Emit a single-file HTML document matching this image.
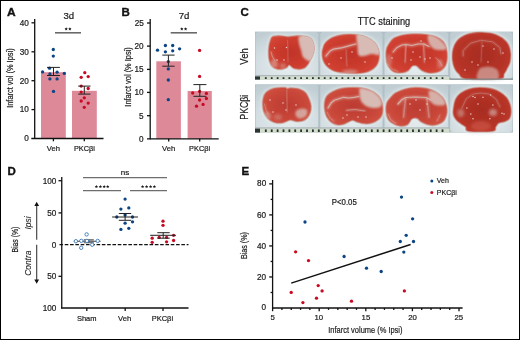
<!DOCTYPE html>
<html><head><meta charset="utf-8">
<style>
html,body{margin:0;padding:0;background:#fff;}
body{width:520px;height:340px;overflow:hidden;}
svg{display:block;font-family:"Liberation Sans",sans-serif;will-change:transform;}
svg text{stroke:#1a1a1a;stroke-width:0.2px;}
svg text.b{stroke:#111;stroke-width:0.35px;}
</style></head>
<body>
<svg width="520" height="340" viewBox="0 0 520 340">
<rect x="0" y="0" width="520" height="340" fill="#fff"/>
<rect x="0.5" y="0.5" width="519" height="339" fill="none" stroke="#000" stroke-width="1"/>

<!-- ============ PANEL A ============ -->
<g id="A">
<text transform="translate(7,15.8) scale(1.06,1)" class="b" font-size="11.3" font-weight="bold" fill="#111">A</text>
<text x="68.8" y="18.9" font-size="9.6" text-anchor="middle" fill="#1a1a1a">3d</text>
<line x1="55" y1="32.8" x2="81" y2="32.8" stroke="#6a6a6a" stroke-width="1.6"/>
<path fill="#1a1a1a" d="M66.20,27.25 L66.70,28.31 L67.86,28.46 L67.01,29.26 L67.23,30.42 L66.20,29.85 L65.17,30.42 L65.39,29.26 L64.54,28.46 L65.70,28.31ZM69.90,27.25 L70.40,28.31 L71.56,28.46 L70.71,29.26 L70.93,30.42 L69.90,29.85 L68.87,30.42 L69.09,29.26 L68.24,28.46 L69.40,28.31Z"/>
<!-- bars -->
<rect x="41" y="72.2" width="24.8" height="66.5" fill="#de8998"/>
<rect x="72" y="90.8" width="24.8" height="47.9" fill="#de8998"/>
<!-- axes -->
<g stroke="#111" stroke-width="1.3" fill="none">
<line x1="34.7" y1="19" x2="34.7" y2="139"/>
<line x1="31.3" y1="138.5" x2="103.5" y2="138.5"/>
<line x1="31.5" y1="22.8" x2="34.7" y2="22.8"/>
<line x1="31.5" y1="51.8" x2="34.7" y2="51.8"/>
<line x1="31.5" y1="80.7" x2="34.7" y2="80.7"/>
<line x1="31.5" y1="109.6" x2="34.7" y2="109.6"/>
<line x1="53.4" y1="138.5" x2="53.4" y2="141.3"/>
<line x1="84.3" y1="138.5" x2="84.3" y2="141.3"/>
</g>
<g font-size="8.2" text-anchor="end" fill="#1a1a1a">
<text x="28.8" y="25.6">40</text>
<text x="28.8" y="54.6">30</text>
<text x="28.8" y="83.5">20</text>
<text x="28.8" y="112.4">10</text>
<text x="28.8" y="141.4">0</text>
</g>
<g font-size="7.9" text-anchor="middle" fill="#1a1a1a" lengthAdjust="spacingAndGlyphs">
<text x="53.4" y="151.3" textLength="13.2" lengthAdjust="spacingAndGlyphs">Veh</text>
<text x="84.4" y="151.3" textLength="21" lengthAdjust="spacingAndGlyphs">PKCβi</text>
</g>
<text transform="translate(13.3,78.1) rotate(-90)" font-size="9" text-anchor="middle" fill="#1a1a1a" textLength="59.5" lengthAdjust="spacingAndGlyphs">Infarct vol (% Ipsi)</text>
<!-- dots -->
<g fill="#0c4585">
<circle cx="53.3" cy="49.5" r="1.65"/><circle cx="53.3" cy="56.1" r="1.65"/>
<circle cx="49.5" cy="68.2" r="1.65"/><circle cx="42.6" cy="71.9" r="1.65"/>
<circle cx="49.9" cy="73.9" r="1.65"/><circle cx="57.1" cy="72.2" r="1.65"/>
<circle cx="64.3" cy="73.4" r="1.65"/><circle cx="49.9" cy="78.9" r="1.65"/>
<circle cx="57.1" cy="78.9" r="1.65"/><circle cx="53.5" cy="91.4" r="1.65"/>
</g>
<g fill="#c80a24">
<circle cx="84.8" cy="72.7" r="1.65"/><circle cx="81.2" cy="77.3" r="1.65"/>
<circle cx="88.2" cy="76.6" r="1.65"/><circle cx="81.2" cy="86.1" r="1.65"/>
<circle cx="88.2" cy="88.5" r="1.65"/><circle cx="81.2" cy="92.1" r="1.65"/>
<circle cx="84.3" cy="97.8" r="1.65"/><circle cx="81.2" cy="101" r="1.65"/>
<circle cx="88.2" cy="103.1" r="1.65"/><circle cx="84.3" cy="107.3" r="1.65"/>
</g>
<g stroke="#222" stroke-width="1" fill="none">
<path d="M47 67.4H59.9M53.5 67.4V75.5M47 75.5H59.9"/>
<path d="M78.2 86.1H90.5M84.3 86.1V94.1M78.2 94.1H90.5"/>
</g>
</g>

<!-- ============ PANEL B ============ -->
<g id="B">
<text x="121.5" y="16" class="b" font-size="11.5" font-weight="bold" fill="#111">B</text>
<text x="184.1" y="18.9" font-size="9.6" text-anchor="middle" fill="#1a1a1a">7d</text>
<line x1="170.7" y1="32.8" x2="197" y2="32.8" stroke="#6a6a6a" stroke-width="1.6"/>
<path fill="#1a1a1a" d="M181.80,27.25 L182.30,28.31 L183.46,28.46 L182.61,29.26 L182.83,30.42 L181.80,29.85 L180.77,30.42 L180.99,29.26 L180.14,28.46 L181.30,28.31ZM185.60,27.25 L186.10,28.31 L187.26,28.46 L186.41,29.26 L186.63,30.42 L185.60,29.85 L184.57,30.42 L184.79,29.26 L183.94,28.46 L185.10,28.31Z"/>
<rect x="156.3" y="61.3" width="24.6" height="77.5" fill="#de8998"/>
<rect x="187.6" y="91" width="24.2" height="47.7" fill="#de8998"/>
<g stroke="#111" stroke-width="1.3" fill="none">
<line x1="150.2" y1="19" x2="150.2" y2="139.2"/>
<line x1="147" y1="138.8" x2="218.7" y2="138.8"/>
<line x1="147" y1="23" x2="150.2" y2="23"/>
<line x1="147" y1="46.1" x2="150.2" y2="46.1"/>
<line x1="147" y1="69.4" x2="150.2" y2="69.4"/>
<line x1="147" y1="92.4" x2="150.2" y2="92.4"/>
<line x1="147" y1="115.7" x2="150.2" y2="115.7"/>
<line x1="168.7" y1="138.8" x2="168.7" y2="141.4"/>
<line x1="199.7" y1="138.8" x2="199.7" y2="141.4"/>
</g>
<g font-size="8.2" text-anchor="end" fill="#1a1a1a">
<text x="143.8" y="25.8">25</text>
<text x="143.5" y="48.9">20</text>
<text x="143.5" y="72.2">15</text>
<text x="143.5" y="95">10</text>
<text x="143.5" y="118.6">5</text>
<text x="143.5" y="141.6">0</text>
</g>
<g font-size="7.9" text-anchor="middle" fill="#1a1a1a">
<text x="168.7" y="151.3" textLength="13.2" lengthAdjust="spacingAndGlyphs">Veh</text>
<text x="199.6" y="151.3" textLength="21" lengthAdjust="spacingAndGlyphs">PKCβi</text>
</g>
<text transform="translate(130.8,76.9) rotate(-90)" font-size="9" text-anchor="middle" fill="#1a1a1a" textLength="59.5" lengthAdjust="spacingAndGlyphs">Infarct vol (% Ipsi)</text>
<g fill="#0c4585">
<circle cx="157.5" cy="50.2" r="1.65"/><circle cx="165.4" cy="45.5" r="1.65"/>
<circle cx="172.7" cy="45.5" r="1.65"/><circle cx="179.6" cy="48.8" r="1.65"/>
<circle cx="165.4" cy="51.8" r="1.65"/><circle cx="172.7" cy="50.8" r="1.65"/>
<circle cx="168.3" cy="61.6" r="1.65"/><circle cx="168.3" cy="68.9" r="1.65"/>
<circle cx="168.3" cy="80" r="1.65"/><circle cx="168.3" cy="99.7" r="1.65"/>
</g>
<g fill="#c80a24">
<circle cx="199.6" cy="50.4" r="1.65"/><circle cx="199.6" cy="76.4" r="1.65"/>
<circle cx="192.7" cy="93" r="1.65"/><circle cx="199.6" cy="91.4" r="1.65"/>
<circle cx="206.4" cy="93.4" r="1.65"/><circle cx="199.6" cy="100" r="1.65"/>
<circle cx="206.4" cy="98.5" r="1.65"/><circle cx="196.5" cy="106.2" r="1.65"/>
<circle cx="203.1" cy="104.4" r="1.65"/>
</g>
<g stroke="#222" stroke-width="1" fill="none">
<path d="M162.3 55.1H174.6M168.4 55.1V66.2M162.3 66.2H174.6"/>
<path d="M193.4 84.6H206.4M199.8 84.6V96.3M193.4 96.3H206.4"/>
</g>
</g>

<!-- ============ PANEL C ============ -->
<g id="C">
<text x="240.5" y="16" class="b" font-size="11.5" font-weight="bold" fill="#111">C</text>
<text x="357.7" y="25.4" font-size="10" fill="#1a1a1a" textLength="52.5" lengthAdjust="spacingAndGlyphs">TTC staining</text>
<text transform="translate(248.4,56.5) rotate(-90)" font-size="10" text-anchor="middle" fill="#1a1a1a" textLength="16.3" lengthAdjust="spacingAndGlyphs">Veh</text>
<text transform="translate(248.4,107.2) rotate(-90)" font-size="10" text-anchor="middle" fill="#1a1a1a" textLength="25" lengthAdjust="spacingAndGlyphs">PKCβi</text>
<!--PHOTOS-->
<defs><filter id="bl" x="-2%" y="-5%" width="104%" height="110%"><feGaussianBlur stdDeviation="0.65"/></filter><filter id="bl2" x="-60%" y="-60%" width="220%" height="220%"><feGaussianBlur stdDeviation="1.6"/></filter><filter id="bl3" x="-60%" y="-60%" width="220%" height="220%"><feGaussianBlur stdDeviation="0.45"/></filter><filter id="bl4" x="-60%" y="-60%" width="220%" height="220%"><feGaussianBlur stdDeviation="1.3"/></filter><radialGradient id="rg1" cx="50%" cy="50%" r="62%"><stop offset="0" stop-color="#c03428"/><stop offset="0.6" stop-color="#cc3c2e"/><stop offset="1" stop-color="#d84836"/></radialGradient><radialGradient id="rg1d" cx="50%" cy="50%" r="62%"><stop offset="0" stop-color="#a82c22"/><stop offset="0.6" stop-color="#b43226"/><stop offset="1" stop-color="#c43c2e"/></radialGradient><radialGradient id="rg2" cx="50%" cy="50%" r="62%"><stop offset="0" stop-color="#bc3c32"/><stop offset="0.6" stop-color="#c84638"/><stop offset="1" stop-color="#d45444"/></radialGradient><radialGradient id="wg" cx="50%" cy="75%" r="80%"><stop offset="0" stop-color="#e4ecee"/><stop offset="0.55" stop-color="#d6e0e4"/><stop offset="1" stop-color="#c0ced3"/></radialGradient></defs>
<g filter="url(#bl)"><rect x="255" y="31.6" width="258" height="48.0" fill="#b0c0c6"/><rect x="255.6" y="32.1" width="62.7" height="47.0" rx="3" fill="url(#wg)"/><rect x="320.3" y="32.1" width="62.2" height="47.0" rx="3" fill="url(#wg)"/><rect x="384.5" y="32.1" width="63.7" height="47.0" rx="3" fill="url(#wg)"/><rect x="450.2" y="32.1" width="62.2" height="47.0" rx="3" fill="url(#wg)"/><path d="M272.4,36.6 C274.0,35.8 277.2,35.6 279.8,35.6 C282.4,35.6 285.3,36.6 288.1,36.6 C290.9,36.6 293.6,35.6 296.7,35.6 C299.8,35.6 304.6,36.1 307.0,36.6 C309.4,37.1 310.3,37.7 311.4,38.8 C312.5,39.9 313.1,41.5 313.6,43.2 C314.1,44.9 314.4,47.1 314.3,49.1 C314.2,51.1 313.5,53.3 312.9,55.0 C312.3,56.7 311.4,57.9 310.7,59.4 C310.0,60.9 309.5,62.5 308.5,63.9 C307.5,65.3 306.3,67.1 304.8,68.0 C303.3,68.9 301.5,69.3 299.6,69.4 C297.8,69.5 295.4,69.3 293.7,68.6 C292.0,67.9 290.4,65.5 289.3,65.3 C288.2,65.1 288.3,66.8 287.1,67.5 C285.9,68.2 283.8,69.2 282.0,69.4 C280.2,69.7 277.8,69.5 276.1,69.0 C274.4,68.5 272.9,67.4 271.7,66.1 C270.5,64.8 269.8,63.0 269.2,60.9 C268.6,58.8 268.4,56.0 268.3,53.5 C268.2,51.0 268.4,48.4 268.7,46.2 C269.0,44.0 269.6,41.9 270.2,40.3 C270.8,38.7 270.8,37.4 272.4,36.6Z" fill="#e2eaec" stroke="#e2eaec" stroke-width="2.5" filter="url(#bl2)"/><path d="M272.4,36.6 C274.0,35.8 277.2,35.6 279.8,35.6 C282.4,35.6 285.3,36.6 288.1,36.6 C290.9,36.6 293.6,35.6 296.7,35.6 C299.8,35.6 304.6,36.1 307.0,36.6 C309.4,37.1 310.3,37.7 311.4,38.8 C312.5,39.9 313.1,41.5 313.6,43.2 C314.1,44.9 314.4,47.1 314.3,49.1 C314.2,51.1 313.5,53.3 312.9,55.0 C312.3,56.7 311.4,57.9 310.7,59.4 C310.0,60.9 309.5,62.5 308.5,63.9 C307.5,65.3 306.3,67.1 304.8,68.0 C303.3,68.9 301.5,69.3 299.6,69.4 C297.8,69.5 295.4,69.3 293.7,68.6 C292.0,67.9 290.4,65.5 289.3,65.3 C288.2,65.1 288.3,66.8 287.1,67.5 C285.9,68.2 283.8,69.2 282.0,69.4 C280.2,69.7 277.8,69.5 276.1,69.0 C274.4,68.5 272.9,67.4 271.7,66.1 C270.5,64.8 269.8,63.0 269.2,60.9 C268.6,58.8 268.4,56.0 268.3,53.5 C268.2,51.0 268.4,48.4 268.7,46.2 C269.0,44.0 269.6,41.9 270.2,40.3 C270.8,38.7 270.8,37.4 272.4,36.6Z" fill="url(#rg1)"/><path d="M272.4,36.6 C274.0,35.8 277.2,35.6 279.8,35.6 C282.4,35.6 285.3,36.6 288.1,36.6 C290.9,36.6 293.6,35.6 296.7,35.6 C299.8,35.6 304.6,36.1 307.0,36.6 C309.4,37.1 310.3,37.7 311.4,38.8 C312.5,39.9 313.1,41.5 313.6,43.2 C314.1,44.9 314.4,47.1 314.3,49.1 C314.2,51.1 313.5,53.3 312.9,55.0 C312.3,56.7 311.4,57.9 310.7,59.4 C310.0,60.9 309.5,62.5 308.5,63.9 C307.5,65.3 306.3,67.1 304.8,68.0 C303.3,68.9 301.5,69.3 299.6,69.4 C297.8,69.5 295.4,69.3 293.7,68.6 C292.0,67.9 290.4,65.5 289.3,65.3 C288.2,65.1 288.3,66.8 287.1,67.5 C285.9,68.2 283.8,69.2 282.0,69.4 C280.2,69.7 277.8,69.5 276.1,69.0 C274.4,68.5 272.9,67.4 271.7,66.1 C270.5,64.8 269.8,63.0 269.2,60.9 C268.6,58.8 268.4,56.0 268.3,53.5 C268.2,51.0 268.4,48.4 268.7,46.2 C269.0,44.0 269.6,41.9 270.2,40.3 C270.8,38.7 270.8,37.4 272.4,36.6Z" fill="none" stroke="#c49a92" stroke-width="1.6" opacity="0.55"/><clipPath id="cp31_0"><path d="M272.4,36.6 C274.0,35.8 277.2,35.6 279.8,35.6 C282.4,35.6 285.3,36.6 288.1,36.6 C290.9,36.6 293.6,35.6 296.7,35.6 C299.8,35.6 304.6,36.1 307.0,36.6 C309.4,37.1 310.3,37.7 311.4,38.8 C312.5,39.9 313.1,41.5 313.6,43.2 C314.1,44.9 314.4,47.1 314.3,49.1 C314.2,51.1 313.5,53.3 312.9,55.0 C312.3,56.7 311.4,57.9 310.7,59.4 C310.0,60.9 309.5,62.5 308.5,63.9 C307.5,65.3 306.3,67.1 304.8,68.0 C303.3,68.9 301.5,69.3 299.6,69.4 C297.8,69.5 295.4,69.3 293.7,68.6 C292.0,67.9 290.4,65.5 289.3,65.3 C288.2,65.1 288.3,66.8 287.1,67.5 C285.9,68.2 283.8,69.2 282.0,69.4 C280.2,69.7 277.8,69.5 276.1,69.0 C274.4,68.5 272.9,67.4 271.7,66.1 C270.5,64.8 269.8,63.0 269.2,60.9 C268.6,58.8 268.4,56.0 268.3,53.5 C268.2,51.0 268.4,48.4 268.7,46.2 C269.0,44.0 269.6,41.9 270.2,40.3 C270.8,38.7 270.8,37.4 272.4,36.6Z"/></clipPath><g clip-path="url(#cp31_0)"><ellipse cx="274" cy="64" rx="4" ry="4" fill="#d8c2bc" opacity="0.5" filter="url(#bl2)"/><ellipse cx="283" cy="66" rx="3" ry="3" fill="#d8c2bc" opacity="0.4" filter="url(#bl2)"/><path d="M300.0,36.0 C302.7,34.8 312.5,32.3 315.0,36.0 C317.5,39.7 316.0,53.8 315.0,58.0 C314.0,62.2 311.0,61.2 309.0,61.0 C307.0,60.8 304.3,58.8 303.0,57.0 C301.7,55.2 301.7,52.3 301.0,50.0 C300.3,47.7 299.2,45.3 299.0,43.0 C298.8,40.7 297.3,37.2 300.0,36.0Z" fill="#d8c2bc" opacity="0.95" filter="url(#bl4)"/><path d="M271.0,52.0 L272.5,57.0 L275.0,61.0" fill="none" stroke="#e8ccc6" stroke-width="2.6" stroke-linejoin="round" stroke-linecap="round" opacity="0.23" filter="url(#bl4)"/><path d="M271.0,52.0 L272.5,57.0 L275.0,61.0" fill="none" stroke="#d4bcb6" stroke-width="1.0" stroke-linejoin="round" stroke-linecap="round" opacity="0.5" filter="url(#bl3)"/><path d="M287.5,40.0 L287.8,50.0 L288.0,62.0" fill="none" stroke="#e8ccc6" stroke-width="2.1" stroke-linejoin="round" stroke-linecap="round" opacity="0.11" filter="url(#bl4)"/><path d="M287.5,40.0 L287.8,50.0 L288.0,62.0" fill="none" stroke="#d4bcb6" stroke-width="0.8" stroke-linejoin="round" stroke-linecap="round" opacity="0.25" filter="url(#bl3)"/><circle cx="274.5" cy="48" r="0.75" fill="#f0e6e4" opacity="0.85"/><circle cx="286.5" cy="47.5" r="0.75" fill="#f0e6e4" opacity="0.85"/><circle cx="277" cy="60" r="0.75" fill="#f0e6e4" opacity="0.85"/><circle cx="284" cy="60" r="0.75" fill="#f0e6e4" opacity="0.85"/></g><path d="M324.8,43.2 C326.1,41.7 328.2,39.5 330.7,38.1 C333.1,36.8 336.3,35.8 339.5,35.1 C342.7,34.4 346.6,34.2 349.8,34.1 C353.0,34.0 355.7,34.2 358.6,34.7 C361.6,35.2 364.8,36.1 367.5,37.4 C370.2,38.7 373.0,40.5 374.8,42.5 C376.6,44.5 377.7,46.8 378.5,49.1 C379.3,51.4 379.6,54.0 379.5,56.5 C379.4,59.0 378.8,61.7 377.8,63.8 C376.8,65.9 375.4,67.5 373.4,69.0 C371.4,70.5 368.7,71.8 366.0,72.6 C363.3,73.4 360.1,73.7 357.2,73.8 C354.3,73.9 351.3,73.6 348.4,73.4 C345.4,73.2 342.2,73.1 339.5,72.6 C336.8,72.1 334.4,71.5 332.2,70.4 C330.0,69.3 327.9,67.8 326.3,66.0 C324.7,64.2 323.3,61.7 322.6,59.4 C321.9,57.1 321.8,54.2 321.9,52.1 C322.0,50.0 322.6,48.4 323.1,46.9 C323.6,45.4 323.5,44.7 324.8,43.2Z" fill="#e2eaec" stroke="#e2eaec" stroke-width="2.5" filter="url(#bl2)"/><path d="M324.8,43.2 C326.1,41.7 328.2,39.5 330.7,38.1 C333.1,36.8 336.3,35.8 339.5,35.1 C342.7,34.4 346.6,34.2 349.8,34.1 C353.0,34.0 355.7,34.2 358.6,34.7 C361.6,35.2 364.8,36.1 367.5,37.4 C370.2,38.7 373.0,40.5 374.8,42.5 C376.6,44.5 377.7,46.8 378.5,49.1 C379.3,51.4 379.6,54.0 379.5,56.5 C379.4,59.0 378.8,61.7 377.8,63.8 C376.8,65.9 375.4,67.5 373.4,69.0 C371.4,70.5 368.7,71.8 366.0,72.6 C363.3,73.4 360.1,73.7 357.2,73.8 C354.3,73.9 351.3,73.6 348.4,73.4 C345.4,73.2 342.2,73.1 339.5,72.6 C336.8,72.1 334.4,71.5 332.2,70.4 C330.0,69.3 327.9,67.8 326.3,66.0 C324.7,64.2 323.3,61.7 322.6,59.4 C321.9,57.1 321.8,54.2 321.9,52.1 C322.0,50.0 322.6,48.4 323.1,46.9 C323.6,45.4 323.5,44.7 324.8,43.2Z" fill="url(#rg1)"/><path d="M324.8,43.2 C326.1,41.7 328.2,39.5 330.7,38.1 C333.1,36.8 336.3,35.8 339.5,35.1 C342.7,34.4 346.6,34.2 349.8,34.1 C353.0,34.0 355.7,34.2 358.6,34.7 C361.6,35.2 364.8,36.1 367.5,37.4 C370.2,38.7 373.0,40.5 374.8,42.5 C376.6,44.5 377.7,46.8 378.5,49.1 C379.3,51.4 379.6,54.0 379.5,56.5 C379.4,59.0 378.8,61.7 377.8,63.8 C376.8,65.9 375.4,67.5 373.4,69.0 C371.4,70.5 368.7,71.8 366.0,72.6 C363.3,73.4 360.1,73.7 357.2,73.8 C354.3,73.9 351.3,73.6 348.4,73.4 C345.4,73.2 342.2,73.1 339.5,72.6 C336.8,72.1 334.4,71.5 332.2,70.4 C330.0,69.3 327.9,67.8 326.3,66.0 C324.7,64.2 323.3,61.7 322.6,59.4 C321.9,57.1 321.8,54.2 321.9,52.1 C322.0,50.0 322.6,48.4 323.1,46.9 C323.6,45.4 323.5,44.7 324.8,43.2Z" fill="none" stroke="#c49a92" stroke-width="1.6" opacity="0.55"/><clipPath id="cp31_1"><path d="M324.8,43.2 C326.1,41.7 328.2,39.5 330.7,38.1 C333.1,36.8 336.3,35.8 339.5,35.1 C342.7,34.4 346.6,34.2 349.8,34.1 C353.0,34.0 355.7,34.2 358.6,34.7 C361.6,35.2 364.8,36.1 367.5,37.4 C370.2,38.7 373.0,40.5 374.8,42.5 C376.6,44.5 377.7,46.8 378.5,49.1 C379.3,51.4 379.6,54.0 379.5,56.5 C379.4,59.0 378.8,61.7 377.8,63.8 C376.8,65.9 375.4,67.5 373.4,69.0 C371.4,70.5 368.7,71.8 366.0,72.6 C363.3,73.4 360.1,73.7 357.2,73.8 C354.3,73.9 351.3,73.6 348.4,73.4 C345.4,73.2 342.2,73.1 339.5,72.6 C336.8,72.1 334.4,71.5 332.2,70.4 C330.0,69.3 327.9,67.8 326.3,66.0 C324.7,64.2 323.3,61.7 322.6,59.4 C321.9,57.1 321.8,54.2 321.9,52.1 C322.0,50.0 322.6,48.4 323.1,46.9 C323.6,45.4 323.5,44.7 324.8,43.2Z"/></clipPath><g clip-path="url(#cp31_1)"><ellipse cx="350" cy="72" rx="8" ry="2.5" fill="#d8c2bc" opacity="0.5" filter="url(#bl2)"/><path d="M357.0,34.0 C358.7,32.3 364.3,34.7 367.5,36.0 C370.7,37.3 373.9,39.7 376.0,42.0 C378.1,44.3 379.5,47.8 380.0,50.0 C380.5,52.2 380.3,54.3 379.0,55.0 C377.7,55.7 374.5,53.8 372.0,54.0 C369.5,54.2 366.2,55.8 364.0,56.0 C361.8,56.2 359.6,56.7 358.5,55.0 C357.4,53.3 357.8,49.5 357.5,46.0 C357.2,42.5 355.3,35.7 357.0,34.0Z" fill="#d8c2bc" opacity="0.95" filter="url(#bl4)"/><path d="M326.0,56.0 L330.0,51.0 L333.6,49.1 L342.5,47.6 L350.6,45.4 L355.7,44.0" fill="none" stroke="#e8ccc6" stroke-width="3.1" stroke-linejoin="round" stroke-linecap="round" opacity="0.38" filter="url(#bl4)"/><path d="M326.0,56.0 L330.0,51.0 L333.6,49.1 L342.5,47.6 L350.6,45.4 L355.7,44.0" fill="none" stroke="#d4bcb6" stroke-width="1.2" stroke-linejoin="round" stroke-linecap="round" opacity="0.85" filter="url(#bl3)"/><path d="M346.0,50.0 L346.5,58.0 L347.0,66.0" fill="none" stroke="#e8ccc6" stroke-width="2.1" stroke-linejoin="round" stroke-linecap="round" opacity="0.14" filter="url(#bl4)"/><path d="M346.0,50.0 L346.5,58.0 L347.0,66.0" fill="none" stroke="#d4bcb6" stroke-width="0.8" stroke-linejoin="round" stroke-linecap="round" opacity="0.3" filter="url(#bl3)"/><circle cx="352" cy="52" r="0.75" fill="#f0e6e4" opacity="0.85"/><circle cx="341" cy="58" r="0.75" fill="#f0e6e4" opacity="0.85"/><circle cx="365" cy="62" r="0.75" fill="#f0e6e4" opacity="0.85"/><circle cx="329" cy="64" r="0.75" fill="#f0e6e4" opacity="0.85"/></g><path d="M388.0,45.0 C389.1,43.2 390.7,40.2 393.0,38.5 C395.3,36.8 398.5,35.8 402.0,35.0 C405.5,34.2 410.0,33.9 414.0,33.8 C418.0,33.7 422.3,33.8 426.0,34.2 C429.7,34.7 433.2,35.4 436.0,36.5 C438.8,37.6 441.2,39.1 443.0,41.0 C444.8,42.9 445.8,45.3 446.5,48.0 C447.2,50.7 447.6,54.2 447.5,57.0 C447.4,59.8 446.9,62.8 446.0,65.0 C445.1,67.2 443.7,68.7 442.0,70.0 C440.3,71.3 438.3,72.3 436.0,72.8 C433.7,73.3 430.4,73.4 428.0,73.0 C425.6,72.6 423.3,71.6 421.5,70.5 C419.7,69.4 418.1,67.3 417.0,66.5 C415.9,65.7 415.4,65.8 414.6,65.8 C413.8,65.8 413.1,65.6 412.0,66.5 C410.9,67.4 409.7,69.9 408.0,71.0 C406.3,72.1 404.2,72.8 402.0,73.0 C399.8,73.2 396.9,73.1 395.0,72.5 C393.1,71.9 391.8,70.9 390.5,69.5 C389.2,68.1 387.8,66.2 387.0,64.0 C386.2,61.8 385.9,58.5 385.8,56.0 C385.7,53.5 385.9,50.8 386.3,49.0 C386.7,47.2 386.9,46.8 388.0,45.0Z" fill="#e2eaec" stroke="#e2eaec" stroke-width="2.5" filter="url(#bl2)"/><path d="M388.0,45.0 C389.1,43.2 390.7,40.2 393.0,38.5 C395.3,36.8 398.5,35.8 402.0,35.0 C405.5,34.2 410.0,33.9 414.0,33.8 C418.0,33.7 422.3,33.8 426.0,34.2 C429.7,34.7 433.2,35.4 436.0,36.5 C438.8,37.6 441.2,39.1 443.0,41.0 C444.8,42.9 445.8,45.3 446.5,48.0 C447.2,50.7 447.6,54.2 447.5,57.0 C447.4,59.8 446.9,62.8 446.0,65.0 C445.1,67.2 443.7,68.7 442.0,70.0 C440.3,71.3 438.3,72.3 436.0,72.8 C433.7,73.3 430.4,73.4 428.0,73.0 C425.6,72.6 423.3,71.6 421.5,70.5 C419.7,69.4 418.1,67.3 417.0,66.5 C415.9,65.7 415.4,65.8 414.6,65.8 C413.8,65.8 413.1,65.6 412.0,66.5 C410.9,67.4 409.7,69.9 408.0,71.0 C406.3,72.1 404.2,72.8 402.0,73.0 C399.8,73.2 396.9,73.1 395.0,72.5 C393.1,71.9 391.8,70.9 390.5,69.5 C389.2,68.1 387.8,66.2 387.0,64.0 C386.2,61.8 385.9,58.5 385.8,56.0 C385.7,53.5 385.9,50.8 386.3,49.0 C386.7,47.2 386.9,46.8 388.0,45.0Z" fill="url(#rg1)"/><path d="M388.0,45.0 C389.1,43.2 390.7,40.2 393.0,38.5 C395.3,36.8 398.5,35.8 402.0,35.0 C405.5,34.2 410.0,33.9 414.0,33.8 C418.0,33.7 422.3,33.8 426.0,34.2 C429.7,34.7 433.2,35.4 436.0,36.5 C438.8,37.6 441.2,39.1 443.0,41.0 C444.8,42.9 445.8,45.3 446.5,48.0 C447.2,50.7 447.6,54.2 447.5,57.0 C447.4,59.8 446.9,62.8 446.0,65.0 C445.1,67.2 443.7,68.7 442.0,70.0 C440.3,71.3 438.3,72.3 436.0,72.8 C433.7,73.3 430.4,73.4 428.0,73.0 C425.6,72.6 423.3,71.6 421.5,70.5 C419.7,69.4 418.1,67.3 417.0,66.5 C415.9,65.7 415.4,65.8 414.6,65.8 C413.8,65.8 413.1,65.6 412.0,66.5 C410.9,67.4 409.7,69.9 408.0,71.0 C406.3,72.1 404.2,72.8 402.0,73.0 C399.8,73.2 396.9,73.1 395.0,72.5 C393.1,71.9 391.8,70.9 390.5,69.5 C389.2,68.1 387.8,66.2 387.0,64.0 C386.2,61.8 385.9,58.5 385.8,56.0 C385.7,53.5 385.9,50.8 386.3,49.0 C386.7,47.2 386.9,46.8 388.0,45.0Z" fill="none" stroke="#c49a92" stroke-width="1.6" opacity="0.55"/><clipPath id="cp31_2"><path d="M388.0,45.0 C389.1,43.2 390.7,40.2 393.0,38.5 C395.3,36.8 398.5,35.8 402.0,35.0 C405.5,34.2 410.0,33.9 414.0,33.8 C418.0,33.7 422.3,33.8 426.0,34.2 C429.7,34.7 433.2,35.4 436.0,36.5 C438.8,37.6 441.2,39.1 443.0,41.0 C444.8,42.9 445.8,45.3 446.5,48.0 C447.2,50.7 447.6,54.2 447.5,57.0 C447.4,59.8 446.9,62.8 446.0,65.0 C445.1,67.2 443.7,68.7 442.0,70.0 C440.3,71.3 438.3,72.3 436.0,72.8 C433.7,73.3 430.4,73.4 428.0,73.0 C425.6,72.6 423.3,71.6 421.5,70.5 C419.7,69.4 418.1,67.3 417.0,66.5 C415.9,65.7 415.4,65.8 414.6,65.8 C413.8,65.8 413.1,65.6 412.0,66.5 C410.9,67.4 409.7,69.9 408.0,71.0 C406.3,72.1 404.2,72.8 402.0,73.0 C399.8,73.2 396.9,73.1 395.0,72.5 C393.1,71.9 391.8,70.9 390.5,69.5 C389.2,68.1 387.8,66.2 387.0,64.0 C386.2,61.8 385.9,58.5 385.8,56.0 C385.7,53.5 385.9,50.8 386.3,49.0 C386.7,47.2 386.9,46.8 388.0,45.0Z"/></clipPath><g clip-path="url(#cp31_2)"><ellipse cx="389" cy="60" rx="3" ry="6" fill="#d8c2bc" opacity="0.35" filter="url(#bl2)"/><ellipse cx="440" cy="64" rx="3" ry="5" fill="#d8c2bc" opacity="0.35" filter="url(#bl2)"/><path d="M428.5,35.0 C429.9,34.2 434.5,36.2 437.0,37.5 C439.5,38.8 441.9,41.1 443.5,43.0 C445.1,44.9 447.1,47.8 446.5,49.0 C445.9,50.2 442.2,50.1 440.0,50.0 C437.8,49.9 434.9,49.8 433.0,48.5 C431.1,47.2 429.2,44.2 428.5,42.0 C427.8,39.8 427.1,35.8 428.5,35.0Z" fill="#d8c2bc" opacity="0.85" filter="url(#bl4)"/><path d="M393.0,52.0 L397.0,47.5 L402.0,45.0 L406.0,44.5 L412.0,45.5 L418.0,44.0 L424.0,44.0 L429.0,46.5" fill="none" stroke="#e8ccc6" stroke-width="2.9" stroke-linejoin="round" stroke-linecap="round" opacity="0.38" filter="url(#bl4)"/><path d="M393.0,52.0 L397.0,47.5 L402.0,45.0 L406.0,44.5 L412.0,45.5 L418.0,44.0 L424.0,44.0 L429.0,46.5" fill="none" stroke="#d4bcb6" stroke-width="1.1" stroke-linejoin="round" stroke-linecap="round" opacity="0.85" filter="url(#bl3)"/><path d="M406.0,45.5 L405.5,53.0 L405.0,62.0" fill="none" stroke="#e8ccc6" stroke-width="3.6" stroke-linejoin="round" stroke-linecap="round" opacity="0.16" filter="url(#bl4)"/><path d="M406.0,45.5 L405.5,53.0 L405.0,62.0" fill="none" stroke="#d4bcb6" stroke-width="1.4" stroke-linejoin="round" stroke-linecap="round" opacity="0.35" filter="url(#bl3)"/><path d="M423.5,45.0 L424.0,53.0 L424.5,62.0" fill="none" stroke="#e8ccc6" stroke-width="3.6" stroke-linejoin="round" stroke-linecap="round" opacity="0.16" filter="url(#bl4)"/><path d="M423.5,45.0 L424.0,53.0 L424.5,62.0" fill="none" stroke="#d4bcb6" stroke-width="1.4" stroke-linejoin="round" stroke-linecap="round" opacity="0.35" filter="url(#bl3)"/><path d="M436.0,58.0 L440.0,62.0 L442.0,66.0" fill="none" stroke="#e8ccc6" stroke-width="2.3" stroke-linejoin="round" stroke-linecap="round" opacity="0.20" filter="url(#bl4)"/><path d="M436.0,58.0 L440.0,62.0 L442.0,66.0" fill="none" stroke="#d4bcb6" stroke-width="0.9" stroke-linejoin="round" stroke-linecap="round" opacity="0.45" filter="url(#bl3)"/><path d="M388.0,64.0 L392.0,69.0 L398.0,71.5" fill="none" stroke="#e8ccc6" stroke-width="2.3" stroke-linejoin="round" stroke-linecap="round" opacity="0.18" filter="url(#bl4)"/><path d="M388.0,64.0 L392.0,69.0 L398.0,71.5" fill="none" stroke="#d4bcb6" stroke-width="0.9" stroke-linejoin="round" stroke-linecap="round" opacity="0.4" filter="url(#bl3)"/><circle cx="421" cy="41" r="0.75" fill="#f0e6e4" opacity="0.85"/><circle cx="420" cy="57" r="0.75" fill="#f0e6e4" opacity="0.85"/><circle cx="425" cy="59" r="0.75" fill="#f0e6e4" opacity="0.85"/><circle cx="392" cy="58" r="0.75" fill="#f0e6e4" opacity="0.85"/><circle cx="411" cy="60" r="0.75" fill="#f0e6e4" opacity="0.85"/><circle cx="430" cy="58" r="0.75" fill="#f0e6e4" opacity="0.85"/><circle cx="413" cy="52" r="0.75" fill="#f0e6e4" opacity="0.85"/></g><path d="M452.8,49.1 C453.6,45.9 455.2,42.6 457.2,40.3 C459.2,38.0 461.9,36.4 464.6,35.1 C467.3,33.8 470.2,33.1 473.4,32.6 C476.6,32.1 480.3,32.0 483.7,32.2 C487.1,32.4 490.8,32.7 494.0,33.7 C497.2,34.7 500.4,36.3 502.8,38.1 C505.2,39.9 507.4,42.1 508.7,44.7 C510.0,47.3 510.6,50.5 510.9,53.5 C511.1,56.5 510.8,59.8 510.2,62.4 C509.6,65.0 508.2,67.0 507.2,69.0 C506.2,71.0 505.5,72.4 504.3,74.1 C503.1,75.8 506.3,78.2 499.9,79.0 C493.5,79.8 473.0,79.8 466.1,79.0 C459.2,78.2 460.7,75.9 458.7,74.1 C456.7,72.3 455.4,70.7 454.3,68.2 C453.2,65.8 452.4,62.6 452.1,59.4 C451.9,56.2 452.0,52.3 452.8,49.1Z" fill="#e2eaec" stroke="#e2eaec" stroke-width="2.5" filter="url(#bl2)"/><path d="M452.8,49.1 C453.6,45.9 455.2,42.6 457.2,40.3 C459.2,38.0 461.9,36.4 464.6,35.1 C467.3,33.8 470.2,33.1 473.4,32.6 C476.6,32.1 480.3,32.0 483.7,32.2 C487.1,32.4 490.8,32.7 494.0,33.7 C497.2,34.7 500.4,36.3 502.8,38.1 C505.2,39.9 507.4,42.1 508.7,44.7 C510.0,47.3 510.6,50.5 510.9,53.5 C511.1,56.5 510.8,59.8 510.2,62.4 C509.6,65.0 508.2,67.0 507.2,69.0 C506.2,71.0 505.5,72.4 504.3,74.1 C503.1,75.8 506.3,78.2 499.9,79.0 C493.5,79.8 473.0,79.8 466.1,79.0 C459.2,78.2 460.7,75.9 458.7,74.1 C456.7,72.3 455.4,70.7 454.3,68.2 C453.2,65.8 452.4,62.6 452.1,59.4 C451.9,56.2 452.0,52.3 452.8,49.1Z" fill="url(#rg1d)"/><path d="M452.8,49.1 C453.6,45.9 455.2,42.6 457.2,40.3 C459.2,38.0 461.9,36.4 464.6,35.1 C467.3,33.8 470.2,33.1 473.4,32.6 C476.6,32.1 480.3,32.0 483.7,32.2 C487.1,32.4 490.8,32.7 494.0,33.7 C497.2,34.7 500.4,36.3 502.8,38.1 C505.2,39.9 507.4,42.1 508.7,44.7 C510.0,47.3 510.6,50.5 510.9,53.5 C511.1,56.5 510.8,59.8 510.2,62.4 C509.6,65.0 508.2,67.0 507.2,69.0 C506.2,71.0 505.5,72.4 504.3,74.1 C503.1,75.8 506.3,78.2 499.9,79.0 C493.5,79.8 473.0,79.8 466.1,79.0 C459.2,78.2 460.7,75.9 458.7,74.1 C456.7,72.3 455.4,70.7 454.3,68.2 C453.2,65.8 452.4,62.6 452.1,59.4 C451.9,56.2 452.0,52.3 452.8,49.1Z" fill="none" stroke="#c49a92" stroke-width="1.6" opacity="0.55"/><clipPath id="cp31_3"><path d="M452.8,49.1 C453.6,45.9 455.2,42.6 457.2,40.3 C459.2,38.0 461.9,36.4 464.6,35.1 C467.3,33.8 470.2,33.1 473.4,32.6 C476.6,32.1 480.3,32.0 483.7,32.2 C487.1,32.4 490.8,32.7 494.0,33.7 C497.2,34.7 500.4,36.3 502.8,38.1 C505.2,39.9 507.4,42.1 508.7,44.7 C510.0,47.3 510.6,50.5 510.9,53.5 C511.1,56.5 510.8,59.8 510.2,62.4 C509.6,65.0 508.2,67.0 507.2,69.0 C506.2,71.0 505.5,72.4 504.3,74.1 C503.1,75.8 506.3,78.2 499.9,79.0 C493.5,79.8 473.0,79.8 466.1,79.0 C459.2,78.2 460.7,75.9 458.7,74.1 C456.7,72.3 455.4,70.7 454.3,68.2 C453.2,65.8 452.4,62.6 452.1,59.4 C451.9,56.2 452.0,52.3 452.8,49.1Z"/></clipPath><g clip-path="url(#cp31_3)"><path d="M479.0,69.5 C480.2,67.3 482.7,67.3 485.0,67.0 C487.3,66.7 490.8,66.8 493.0,67.5 C495.2,68.2 497.3,68.9 498.0,71.0 C498.7,73.1 500.3,78.5 497.0,80.0 C493.7,81.5 481.0,81.8 478.0,80.0 C475.0,78.2 477.8,71.7 479.0,69.5Z" fill="#d8c2bc" opacity="0.6" filter="url(#bl4)"/><path d="M463.1,56.0 L463.1,50.6 L470.5,43.2 L480.8,40.3 L492.5,41.8 L499.9,47.6 L501.0,54.0" fill="none" stroke="#e8ccc6" stroke-width="2.6" stroke-linejoin="round" stroke-linecap="round" opacity="0.16" filter="url(#bl4)"/><path d="M463.1,56.0 L463.1,50.6 L470.5,43.2 L480.8,40.3 L492.5,41.8 L499.9,47.6 L501.0,54.0" fill="none" stroke="#d4bcb6" stroke-width="1.0" stroke-linejoin="round" stroke-linecap="round" opacity="0.35" filter="url(#bl3)"/><path d="M482.0,42.0 L481.5,52.0 L481.0,62.0" fill="none" stroke="#e8ccc6" stroke-width="2.1" stroke-linejoin="round" stroke-linecap="round" opacity="0.11" filter="url(#bl4)"/><path d="M482.0,42.0 L481.5,52.0 L481.0,62.0" fill="none" stroke="#d4bcb6" stroke-width="0.8" stroke-linejoin="round" stroke-linecap="round" opacity="0.25" filter="url(#bl3)"/><circle cx="483" cy="46" r="0.75" fill="#f0e6e4" opacity="0.85"/><circle cx="494" cy="49" r="0.75" fill="#f0e6e4" opacity="0.85"/><circle cx="503" cy="53" r="0.75" fill="#f0e6e4" opacity="0.85"/><circle cx="465" cy="70" r="0.75" fill="#f0e6e4" opacity="0.85"/><circle cx="478" cy="65" r="0.75" fill="#f0e6e4" opacity="0.85"/><circle cx="472" cy="62" r="0.75" fill="#f0e6e4" opacity="0.85"/><circle cx="488" cy="62" r="0.75" fill="#f0e6e4" opacity="0.85"/></g><rect x="255" y="75.2" width="194" height="1.4" fill="#a6b0b2"/><rect x="255" y="76.4" width="194" height="3.2" fill="#d4dccb"/><rect x="255" y="76.4" width="5" height="3.2" fill="#2a3434"/><rect x="264.9" y="77.2" width="1.8" height="1.8" fill="#223030"/><rect x="270.8" y="77.2" width="1.8" height="1.8" fill="#223030"/><rect x="276.7" y="77.2" width="1.8" height="1.8" fill="#223030"/><rect x="282.6" y="77.2" width="1.8" height="1.8" fill="#223030"/><rect x="288.5" y="77.2" width="1.8" height="1.8" fill="#223030"/><rect x="294.3" y="77.2" width="1.8" height="1.8" fill="#223030"/><rect x="300.2" y="77.2" width="1.8" height="1.8" fill="#223030"/><rect x="306.1" y="77.2" width="1.8" height="1.8" fill="#223030"/><rect x="312.0" y="77.2" width="1.8" height="1.8" fill="#223030"/><rect x="317.9" y="77.2" width="1.8" height="1.8" fill="#223030"/><rect x="323.8" y="77.2" width="1.8" height="1.8" fill="#223030"/><rect x="329.7" y="77.2" width="1.8" height="1.8" fill="#223030"/><rect x="335.6" y="77.2" width="1.8" height="1.8" fill="#223030"/><rect x="341.5" y="77.2" width="1.8" height="1.8" fill="#223030"/><rect x="347.4" y="77.2" width="1.8" height="1.8" fill="#223030"/><rect x="353.2" y="77.2" width="1.8" height="1.8" fill="#223030"/><rect x="359.1" y="77.2" width="1.8" height="1.8" fill="#223030"/><rect x="365.0" y="77.2" width="1.8" height="1.8" fill="#223030"/><rect x="370.9" y="77.2" width="1.8" height="1.8" fill="#223030"/><rect x="376.8" y="77.2" width="1.8" height="1.8" fill="#223030"/><rect x="382.7" y="77.2" width="1.8" height="1.8" fill="#223030"/><rect x="388.6" y="77.2" width="1.8" height="1.8" fill="#223030"/><rect x="394.5" y="77.2" width="1.8" height="1.8" fill="#223030"/><rect x="400.4" y="77.2" width="1.8" height="1.8" fill="#223030"/><rect x="406.3" y="77.2" width="1.8" height="1.8" fill="#223030"/><rect x="412.1" y="77.2" width="1.8" height="1.8" fill="#223030"/><rect x="418.0" y="77.2" width="1.8" height="1.8" fill="#223030"/><rect x="423.9" y="77.2" width="1.8" height="1.8" fill="#223030"/><rect x="429.8" y="77.2" width="1.8" height="1.8" fill="#223030"/><rect x="435.7" y="77.2" width="1.8" height="1.8" fill="#223030"/><rect x="441.6" y="77.2" width="1.8" height="1.8" fill="#223030"/></g>
<rect x="449.5" y="78.6" width="63.5" height="1" fill="#6a7678" filter="url(#bl)"/>
<g filter="url(#bl)"><rect x="255" y="84.3" width="258" height="48.3" fill="#b0c0c6"/><rect x="255.6" y="84.8" width="62.7" height="47.3" rx="3" fill="url(#wg)"/><rect x="320.3" y="84.8" width="62.2" height="47.3" rx="3" fill="url(#wg)"/><rect x="384.5" y="84.8" width="63.7" height="47.3" rx="3" fill="url(#wg)"/><rect x="450.2" y="84.8" width="62.2" height="47.3" rx="3" fill="url(#wg)"/><path d="M266.2,91.9 C268.0,90.4 270.8,88.9 273.9,88.1 C277.0,87.3 282.3,87.2 284.6,87.3 C286.9,87.4 286.5,88.4 287.5,88.5 C288.5,88.6 288.6,87.7 290.7,87.8 C292.8,87.9 297.2,88.1 299.8,88.9 C302.4,89.7 304.3,90.8 306.0,92.7 C307.7,94.6 308.9,98.0 309.8,100.3 C310.7,102.6 311.2,104.4 311.3,106.4 C311.4,108.5 311.1,110.7 310.5,112.6 C309.9,114.5 308.8,116.5 307.5,117.9 C306.2,119.3 304.7,120.4 302.9,121.0 C301.1,121.6 298.8,121.8 296.8,121.7 C294.8,121.6 292.4,120.2 290.7,120.2 C289.0,120.2 288.4,120.9 286.9,121.4 C285.4,121.9 283.7,123.1 281.5,123.3 C279.3,123.5 276.2,123.3 273.9,122.5 C271.6,121.7 269.5,120.4 267.8,118.7 C266.1,117.0 264.8,114.9 263.9,112.6 C263.0,110.3 262.5,107.5 262.4,104.9 C262.3,102.4 262.6,99.5 263.2,97.3 C263.8,95.1 264.4,93.4 266.2,91.9Z" fill="#e2eaec" stroke="#e2eaec" stroke-width="2.5" filter="url(#bl2)"/><path d="M266.2,91.9 C268.0,90.4 270.8,88.9 273.9,88.1 C277.0,87.3 282.3,87.2 284.6,87.3 C286.9,87.4 286.5,88.4 287.5,88.5 C288.5,88.6 288.6,87.7 290.7,87.8 C292.8,87.9 297.2,88.1 299.8,88.9 C302.4,89.7 304.3,90.8 306.0,92.7 C307.7,94.6 308.9,98.0 309.8,100.3 C310.7,102.6 311.2,104.4 311.3,106.4 C311.4,108.5 311.1,110.7 310.5,112.6 C309.9,114.5 308.8,116.5 307.5,117.9 C306.2,119.3 304.7,120.4 302.9,121.0 C301.1,121.6 298.8,121.8 296.8,121.7 C294.8,121.6 292.4,120.2 290.7,120.2 C289.0,120.2 288.4,120.9 286.9,121.4 C285.4,121.9 283.7,123.1 281.5,123.3 C279.3,123.5 276.2,123.3 273.9,122.5 C271.6,121.7 269.5,120.4 267.8,118.7 C266.1,117.0 264.8,114.9 263.9,112.6 C263.0,110.3 262.5,107.5 262.4,104.9 C262.3,102.4 262.6,99.5 263.2,97.3 C263.8,95.1 264.4,93.4 266.2,91.9Z" fill="url(#rg2)"/><path d="M266.2,91.9 C268.0,90.4 270.8,88.9 273.9,88.1 C277.0,87.3 282.3,87.2 284.6,87.3 C286.9,87.4 286.5,88.4 287.5,88.5 C288.5,88.6 288.6,87.7 290.7,87.8 C292.8,87.9 297.2,88.1 299.8,88.9 C302.4,89.7 304.3,90.8 306.0,92.7 C307.7,94.6 308.9,98.0 309.8,100.3 C310.7,102.6 311.2,104.4 311.3,106.4 C311.4,108.5 311.1,110.7 310.5,112.6 C309.9,114.5 308.8,116.5 307.5,117.9 C306.2,119.3 304.7,120.4 302.9,121.0 C301.1,121.6 298.8,121.8 296.8,121.7 C294.8,121.6 292.4,120.2 290.7,120.2 C289.0,120.2 288.4,120.9 286.9,121.4 C285.4,121.9 283.7,123.1 281.5,123.3 C279.3,123.5 276.2,123.3 273.9,122.5 C271.6,121.7 269.5,120.4 267.8,118.7 C266.1,117.0 264.8,114.9 263.9,112.6 C263.0,110.3 262.5,107.5 262.4,104.9 C262.3,102.4 262.6,99.5 263.2,97.3 C263.8,95.1 264.4,93.4 266.2,91.9Z" fill="none" stroke="#c49a92" stroke-width="1.6" opacity="0.55"/><clipPath id="cp84_0"><path d="M266.2,91.9 C268.0,90.4 270.8,88.9 273.9,88.1 C277.0,87.3 282.3,87.2 284.6,87.3 C286.9,87.4 286.5,88.4 287.5,88.5 C288.5,88.6 288.6,87.7 290.7,87.8 C292.8,87.9 297.2,88.1 299.8,88.9 C302.4,89.7 304.3,90.8 306.0,92.7 C307.7,94.6 308.9,98.0 309.8,100.3 C310.7,102.6 311.2,104.4 311.3,106.4 C311.4,108.5 311.1,110.7 310.5,112.6 C309.9,114.5 308.8,116.5 307.5,117.9 C306.2,119.3 304.7,120.4 302.9,121.0 C301.1,121.6 298.8,121.8 296.8,121.7 C294.8,121.6 292.4,120.2 290.7,120.2 C289.0,120.2 288.4,120.9 286.9,121.4 C285.4,121.9 283.7,123.1 281.5,123.3 C279.3,123.5 276.2,123.3 273.9,122.5 C271.6,121.7 269.5,120.4 267.8,118.7 C266.1,117.0 264.8,114.9 263.9,112.6 C263.0,110.3 262.5,107.5 262.4,104.9 C262.3,102.4 262.6,99.5 263.2,97.3 C263.8,95.1 264.4,93.4 266.2,91.9Z"/></clipPath><g clip-path="url(#cp84_0)"><ellipse cx="267" cy="116" rx="4" ry="4" fill="#d8c2bc" opacity="0.45" filter="url(#bl2)"/><ellipse cx="278" cy="117" rx="4" ry="3" fill="#d8c2bc" opacity="0.3" filter="url(#bl2)"/><path d="M296.0,111.0 C297.0,109.8 300.2,108.7 302.0,108.5 C303.8,108.3 306.3,108.8 307.0,110.0 C307.7,111.2 307.2,114.6 306.0,116.0 C304.8,117.4 301.7,118.5 300.0,118.5 C298.3,118.5 296.7,117.2 296.0,116.0 C295.3,114.8 295.0,112.2 296.0,111.0Z" fill="#d8c2bc" opacity="0.75" filter="url(#bl4)"/><path d="M286.8,90.0 L287.0,100.0 L287.3,112.0" fill="none" stroke="#e8ccc6" stroke-width="2.1" stroke-linejoin="round" stroke-linecap="round" opacity="0.14" filter="url(#bl4)"/><path d="M286.8,90.0 L287.0,100.0 L287.3,112.0" fill="none" stroke="#d4bcb6" stroke-width="0.8" stroke-linejoin="round" stroke-linecap="round" opacity="0.3" filter="url(#bl3)"/><path d="M264.5,104.0 L266.0,110.0 L268.0,114.0" fill="none" stroke="#e8ccc6" stroke-width="2.3" stroke-linejoin="round" stroke-linecap="round" opacity="0.18" filter="url(#bl4)"/><path d="M264.5,104.0 L266.0,110.0 L268.0,114.0" fill="none" stroke="#d4bcb6" stroke-width="0.9" stroke-linejoin="round" stroke-linecap="round" opacity="0.4" filter="url(#bl3)"/><circle cx="270" cy="100" r="0.75" fill="#f0e6e4" opacity="0.85"/><circle cx="283" cy="103" r="0.75" fill="#f0e6e4" opacity="0.85"/><circle cx="286" cy="110" r="0.75" fill="#f0e6e4" opacity="0.85"/><circle cx="273" cy="112" r="0.75" fill="#f0e6e4" opacity="0.85"/><circle cx="296" cy="105" r="0.75" fill="#f0e6e4" opacity="0.85"/></g><path d="M326.7,95.8 C328.1,94.0 330.2,92.5 332.8,91.2 C335.4,89.9 338.9,88.8 342.0,88.1 C345.1,87.4 347.9,87.3 351.2,87.3 C354.5,87.2 358.6,87.3 361.9,87.8 C365.2,88.3 368.2,89.1 371.0,90.4 C373.8,91.7 376.8,93.6 378.7,95.8 C380.6,98.0 381.8,100.9 382.5,103.4 C383.2,105.9 383.4,108.7 383.2,111.0 C382.9,113.3 382.3,115.4 381.0,117.2 C379.7,119.0 377.8,120.6 375.6,121.7 C373.4,122.8 370.3,123.7 368.0,124.0 C365.7,124.3 363.8,123.9 361.9,123.6 C360.0,123.3 358.0,122.5 356.5,122.0 C355.0,121.5 354.0,120.5 352.7,120.5 C351.4,120.5 350.4,121.3 348.9,122.0 C347.4,122.7 345.4,124.0 343.5,124.5 C341.6,125.0 339.4,125.4 337.4,125.1 C335.4,124.8 333.1,123.8 331.3,122.5 C329.5,121.2 327.9,119.4 326.7,117.2 C325.5,115.0 324.8,112.0 324.4,109.5 C324.0,107.0 324.0,104.2 324.4,101.9 C324.8,99.6 325.3,97.6 326.7,95.8Z" fill="#e2eaec" stroke="#e2eaec" stroke-width="2.5" filter="url(#bl2)"/><path d="M326.7,95.8 C328.1,94.0 330.2,92.5 332.8,91.2 C335.4,89.9 338.9,88.8 342.0,88.1 C345.1,87.4 347.9,87.3 351.2,87.3 C354.5,87.2 358.6,87.3 361.9,87.8 C365.2,88.3 368.2,89.1 371.0,90.4 C373.8,91.7 376.8,93.6 378.7,95.8 C380.6,98.0 381.8,100.9 382.5,103.4 C383.2,105.9 383.4,108.7 383.2,111.0 C382.9,113.3 382.3,115.4 381.0,117.2 C379.7,119.0 377.8,120.6 375.6,121.7 C373.4,122.8 370.3,123.7 368.0,124.0 C365.7,124.3 363.8,123.9 361.9,123.6 C360.0,123.3 358.0,122.5 356.5,122.0 C355.0,121.5 354.0,120.5 352.7,120.5 C351.4,120.5 350.4,121.3 348.9,122.0 C347.4,122.7 345.4,124.0 343.5,124.5 C341.6,125.0 339.4,125.4 337.4,125.1 C335.4,124.8 333.1,123.8 331.3,122.5 C329.5,121.2 327.9,119.4 326.7,117.2 C325.5,115.0 324.8,112.0 324.4,109.5 C324.0,107.0 324.0,104.2 324.4,101.9 C324.8,99.6 325.3,97.6 326.7,95.8Z" fill="url(#rg2)"/><path d="M326.7,95.8 C328.1,94.0 330.2,92.5 332.8,91.2 C335.4,89.9 338.9,88.8 342.0,88.1 C345.1,87.4 347.9,87.3 351.2,87.3 C354.5,87.2 358.6,87.3 361.9,87.8 C365.2,88.3 368.2,89.1 371.0,90.4 C373.8,91.7 376.8,93.6 378.7,95.8 C380.6,98.0 381.8,100.9 382.5,103.4 C383.2,105.9 383.4,108.7 383.2,111.0 C382.9,113.3 382.3,115.4 381.0,117.2 C379.7,119.0 377.8,120.6 375.6,121.7 C373.4,122.8 370.3,123.7 368.0,124.0 C365.7,124.3 363.8,123.9 361.9,123.6 C360.0,123.3 358.0,122.5 356.5,122.0 C355.0,121.5 354.0,120.5 352.7,120.5 C351.4,120.5 350.4,121.3 348.9,122.0 C347.4,122.7 345.4,124.0 343.5,124.5 C341.6,125.0 339.4,125.4 337.4,125.1 C335.4,124.8 333.1,123.8 331.3,122.5 C329.5,121.2 327.9,119.4 326.7,117.2 C325.5,115.0 324.8,112.0 324.4,109.5 C324.0,107.0 324.0,104.2 324.4,101.9 C324.8,99.6 325.3,97.6 326.7,95.8Z" fill="none" stroke="#c49a92" stroke-width="1.6" opacity="0.55"/><clipPath id="cp84_1"><path d="M326.7,95.8 C328.1,94.0 330.2,92.5 332.8,91.2 C335.4,89.9 338.9,88.8 342.0,88.1 C345.1,87.4 347.9,87.3 351.2,87.3 C354.5,87.2 358.6,87.3 361.9,87.8 C365.2,88.3 368.2,89.1 371.0,90.4 C373.8,91.7 376.8,93.6 378.7,95.8 C380.6,98.0 381.8,100.9 382.5,103.4 C383.2,105.9 383.4,108.7 383.2,111.0 C382.9,113.3 382.3,115.4 381.0,117.2 C379.7,119.0 377.8,120.6 375.6,121.7 C373.4,122.8 370.3,123.7 368.0,124.0 C365.7,124.3 363.8,123.9 361.9,123.6 C360.0,123.3 358.0,122.5 356.5,122.0 C355.0,121.5 354.0,120.5 352.7,120.5 C351.4,120.5 350.4,121.3 348.9,122.0 C347.4,122.7 345.4,124.0 343.5,124.5 C341.6,125.0 339.4,125.4 337.4,125.1 C335.4,124.8 333.1,123.8 331.3,122.5 C329.5,121.2 327.9,119.4 326.7,117.2 C325.5,115.0 324.8,112.0 324.4,109.5 C324.0,107.0 324.0,104.2 324.4,101.9 C324.8,99.6 325.3,97.6 326.7,95.8Z"/></clipPath><g clip-path="url(#cp84_1)"><path d="M360.5,88.0 C362.4,87.4 368.0,89.2 371.0,90.5 C374.0,91.8 376.9,93.9 378.7,96.0 C380.5,98.1 381.8,101.2 382.0,103.0 C382.2,104.8 381.5,106.2 380.0,107.0 C378.5,107.8 375.3,108.2 373.0,108.0 C370.7,107.8 368.0,107.2 366.0,106.0 C364.0,104.8 362.1,103.0 361.0,101.0 C359.9,99.0 359.6,96.2 359.5,94.0 C359.4,91.8 358.6,88.6 360.5,88.0Z" fill="#d8c2bc" opacity="0.95" filter="url(#bl4)"/><path d="M328.0,108.0 L331.0,103.0 L334.3,100.3 L343.5,97.3 L348.9,98.0 L354.2,97.3 L358.8,96.5" fill="none" stroke="#e8ccc6" stroke-width="3.1" stroke-linejoin="round" stroke-linecap="round" opacity="0.38" filter="url(#bl4)"/><path d="M328.0,108.0 L331.0,103.0 L334.3,100.3 L343.5,97.3 L348.9,98.0 L354.2,97.3 L358.8,96.5" fill="none" stroke="#d4bcb6" stroke-width="1.2" stroke-linejoin="round" stroke-linecap="round" opacity="0.85" filter="url(#bl3)"/><path d="M346.6,110.3 L355.0,109.5 L364.9,111.0" fill="none" stroke="#e8ccc6" stroke-width="2.6" stroke-linejoin="round" stroke-linecap="round" opacity="0.25" filter="url(#bl4)"/><path d="M346.6,110.3 L355.0,109.5 L364.9,111.0" fill="none" stroke="#d4bcb6" stroke-width="1.0" stroke-linejoin="round" stroke-linecap="round" opacity="0.55" filter="url(#bl3)"/><path d="M327.0,112.0 L330.0,118.0 L334.0,121.0" fill="none" stroke="#e8ccc6" stroke-width="2.3" stroke-linejoin="round" stroke-linecap="round" opacity="0.18" filter="url(#bl4)"/><path d="M327.0,112.0 L330.0,118.0 L334.0,121.0" fill="none" stroke="#d4bcb6" stroke-width="0.9" stroke-linejoin="round" stroke-linecap="round" opacity="0.4" filter="url(#bl3)"/><circle cx="343" cy="118" r="0.75" fill="#f0e6e4" opacity="0.85"/><circle cx="358" cy="117" r="0.75" fill="#f0e6e4" opacity="0.85"/><circle cx="366" cy="117" r="0.75" fill="#f0e6e4" opacity="0.85"/><circle cx="347" cy="115" r="0.75" fill="#f0e6e4" opacity="0.85"/></g><path d="M389.2,98.8 C390.7,97.0 392.8,94.3 395.3,92.7 C397.9,91.1 401.2,89.8 404.5,88.9 C407.8,88.0 411.6,87.4 415.2,87.3 C418.8,87.2 422.6,87.4 425.9,88.1 C429.2,88.8 432.2,89.7 435.0,91.2 C437.8,92.7 440.8,95.0 442.7,97.3 C444.6,99.6 445.8,102.4 446.5,104.9 C447.2,107.5 447.4,110.2 447.2,112.6 C446.9,115.0 446.0,117.6 445.0,119.4 C444.0,121.2 443.0,122.3 441.1,123.3 C439.2,124.3 435.8,125.3 433.5,125.6 C431.2,125.8 429.5,125.4 427.4,124.8 C425.3,124.2 422.7,123.0 421.0,122.0 C419.3,121.0 418.5,119.4 417.4,118.8 C416.3,118.2 415.5,118.1 414.5,118.2 C413.5,118.3 412.7,118.4 411.5,119.5 C410.3,120.6 409.4,123.9 407.5,125.0 C405.6,126.1 402.4,126.6 399.9,126.3 C397.3,126.0 394.2,124.6 392.2,123.3 C390.1,122.0 388.7,120.8 387.6,118.7 C386.5,116.7 386.0,113.5 385.8,111.0 C385.6,108.5 385.8,105.4 386.4,103.4 C387.0,101.4 387.7,100.6 389.2,98.8Z" fill="#e2eaec" stroke="#e2eaec" stroke-width="2.5" filter="url(#bl2)"/><path d="M389.2,98.8 C390.7,97.0 392.8,94.3 395.3,92.7 C397.9,91.1 401.2,89.8 404.5,88.9 C407.8,88.0 411.6,87.4 415.2,87.3 C418.8,87.2 422.6,87.4 425.9,88.1 C429.2,88.8 432.2,89.7 435.0,91.2 C437.8,92.7 440.8,95.0 442.7,97.3 C444.6,99.6 445.8,102.4 446.5,104.9 C447.2,107.5 447.4,110.2 447.2,112.6 C446.9,115.0 446.0,117.6 445.0,119.4 C444.0,121.2 443.0,122.3 441.1,123.3 C439.2,124.3 435.8,125.3 433.5,125.6 C431.2,125.8 429.5,125.4 427.4,124.8 C425.3,124.2 422.7,123.0 421.0,122.0 C419.3,121.0 418.5,119.4 417.4,118.8 C416.3,118.2 415.5,118.1 414.5,118.2 C413.5,118.3 412.7,118.4 411.5,119.5 C410.3,120.6 409.4,123.9 407.5,125.0 C405.6,126.1 402.4,126.6 399.9,126.3 C397.3,126.0 394.2,124.6 392.2,123.3 C390.1,122.0 388.7,120.8 387.6,118.7 C386.5,116.7 386.0,113.5 385.8,111.0 C385.6,108.5 385.8,105.4 386.4,103.4 C387.0,101.4 387.7,100.6 389.2,98.8Z" fill="url(#rg2)"/><path d="M389.2,98.8 C390.7,97.0 392.8,94.3 395.3,92.7 C397.9,91.1 401.2,89.8 404.5,88.9 C407.8,88.0 411.6,87.4 415.2,87.3 C418.8,87.2 422.6,87.4 425.9,88.1 C429.2,88.8 432.2,89.7 435.0,91.2 C437.8,92.7 440.8,95.0 442.7,97.3 C444.6,99.6 445.8,102.4 446.5,104.9 C447.2,107.5 447.4,110.2 447.2,112.6 C446.9,115.0 446.0,117.6 445.0,119.4 C444.0,121.2 443.0,122.3 441.1,123.3 C439.2,124.3 435.8,125.3 433.5,125.6 C431.2,125.8 429.5,125.4 427.4,124.8 C425.3,124.2 422.7,123.0 421.0,122.0 C419.3,121.0 418.5,119.4 417.4,118.8 C416.3,118.2 415.5,118.1 414.5,118.2 C413.5,118.3 412.7,118.4 411.5,119.5 C410.3,120.6 409.4,123.9 407.5,125.0 C405.6,126.1 402.4,126.6 399.9,126.3 C397.3,126.0 394.2,124.6 392.2,123.3 C390.1,122.0 388.7,120.8 387.6,118.7 C386.5,116.7 386.0,113.5 385.8,111.0 C385.6,108.5 385.8,105.4 386.4,103.4 C387.0,101.4 387.7,100.6 389.2,98.8Z" fill="none" stroke="#c49a92" stroke-width="1.6" opacity="0.55"/><clipPath id="cp84_2"><path d="M389.2,98.8 C390.7,97.0 392.8,94.3 395.3,92.7 C397.9,91.1 401.2,89.8 404.5,88.9 C407.8,88.0 411.6,87.4 415.2,87.3 C418.8,87.2 422.6,87.4 425.9,88.1 C429.2,88.8 432.2,89.7 435.0,91.2 C437.8,92.7 440.8,95.0 442.7,97.3 C444.6,99.6 445.8,102.4 446.5,104.9 C447.2,107.5 447.4,110.2 447.2,112.6 C446.9,115.0 446.0,117.6 445.0,119.4 C444.0,121.2 443.0,122.3 441.1,123.3 C439.2,124.3 435.8,125.3 433.5,125.6 C431.2,125.8 429.5,125.4 427.4,124.8 C425.3,124.2 422.7,123.0 421.0,122.0 C419.3,121.0 418.5,119.4 417.4,118.8 C416.3,118.2 415.5,118.1 414.5,118.2 C413.5,118.3 412.7,118.4 411.5,119.5 C410.3,120.6 409.4,123.9 407.5,125.0 C405.6,126.1 402.4,126.6 399.9,126.3 C397.3,126.0 394.2,124.6 392.2,123.3 C390.1,122.0 388.7,120.8 387.6,118.7 C386.5,116.7 386.0,113.5 385.8,111.0 C385.6,108.5 385.8,105.4 386.4,103.4 C387.0,101.4 387.7,100.6 389.2,98.8Z"/></clipPath><g clip-path="url(#cp84_2)"><path d="M429.0,91.0 C430.1,90.0 433.7,90.9 436.0,92.0 C438.3,93.1 441.1,95.5 442.7,97.5 C444.3,99.5 445.9,102.7 445.5,104.0 C445.1,105.3 442.1,105.5 440.0,105.5 C437.9,105.5 434.8,105.2 433.0,104.0 C431.2,102.8 430.2,100.2 429.5,98.0 C428.8,95.8 427.9,92.0 429.0,91.0Z" fill="#d8c2bc" opacity="0.85" filter="url(#bl4)"/><path d="M398.0,104.0 L402.0,99.5 L406.0,97.5 L415.0,97.0 L426.0,97.5 L431.0,100.0" fill="none" stroke="#e8ccc6" stroke-width="3.1" stroke-linejoin="round" stroke-linecap="round" opacity="0.38" filter="url(#bl4)"/><path d="M398.0,104.0 L402.0,99.5 L406.0,97.5 L415.0,97.0 L426.0,97.5 L431.0,100.0" fill="none" stroke="#d4bcb6" stroke-width="1.2" stroke-linejoin="round" stroke-linecap="round" opacity="0.85" filter="url(#bl3)"/><path d="M405.5,99.0 L404.5,108.0 L403.5,117.0" fill="none" stroke="#e8ccc6" stroke-width="4.2" stroke-linejoin="round" stroke-linecap="round" opacity="0.18" filter="url(#bl4)"/><path d="M405.5,99.0 L404.5,108.0 L403.5,117.0" fill="none" stroke="#d4bcb6" stroke-width="1.6" stroke-linejoin="round" stroke-linecap="round" opacity="0.4" filter="url(#bl3)"/><path d="M427.0,99.0 L428.0,108.0 L429.0,117.0" fill="none" stroke="#e8ccc6" stroke-width="4.2" stroke-linejoin="round" stroke-linecap="round" opacity="0.18" filter="url(#bl4)"/><path d="M427.0,99.0 L428.0,108.0 L429.0,117.0" fill="none" stroke="#d4bcb6" stroke-width="1.6" stroke-linejoin="round" stroke-linecap="round" opacity="0.4" filter="url(#bl3)"/><path d="M388.0,114.0 L391.0,120.0 L396.0,123.5" fill="none" stroke="#e8ccc6" stroke-width="2.3" stroke-linejoin="round" stroke-linecap="round" opacity="0.20" filter="url(#bl4)"/><path d="M388.0,114.0 L391.0,120.0 L396.0,123.5" fill="none" stroke="#d4bcb6" stroke-width="0.9" stroke-linejoin="round" stroke-linecap="round" opacity="0.45" filter="url(#bl3)"/><path d="M440.0,115.0 L437.0,121.0" fill="none" stroke="#e8ccc6" stroke-width="2.3" stroke-linejoin="round" stroke-linecap="round" opacity="0.18" filter="url(#bl4)"/><path d="M440.0,115.0 L437.0,121.0" fill="none" stroke="#d4bcb6" stroke-width="0.9" stroke-linejoin="round" stroke-linecap="round" opacity="0.4" filter="url(#bl3)"/><circle cx="420" cy="110" r="0.75" fill="#f0e6e4" opacity="0.85"/><circle cx="427" cy="104" r="0.75" fill="#f0e6e4" opacity="0.85"/><circle cx="410" cy="104" r="0.75" fill="#f0e6e4" opacity="0.85"/><circle cx="416" cy="100" r="0.75" fill="#f0e6e4" opacity="0.85"/></g><path d="M453.2,108.0 C453.6,105.3 454.2,101.3 455.5,98.8 C456.8,96.2 458.6,94.3 460.8,92.7 C463.0,91.1 465.4,89.8 468.5,88.9 C471.6,88.0 475.6,87.4 479.2,87.3 C482.8,87.2 486.6,87.4 489.9,88.1 C493.2,88.8 496.2,89.7 499.0,91.2 C501.8,92.7 504.8,95.0 506.7,97.3 C508.6,99.6 509.7,102.4 510.5,104.9 C511.3,107.5 511.4,110.3 511.3,112.6 C511.2,114.9 510.7,117.2 509.7,118.7 C508.7,120.2 506.9,120.9 505.1,121.7 C503.3,122.5 500.5,122.4 499.0,123.3 C497.5,124.2 497.0,125.7 496.0,127.1 C495.0,128.5 497.5,130.8 492.9,131.5 C488.3,132.2 473.1,132.2 468.5,131.5 C463.9,130.8 466.7,128.3 465.4,127.1 C464.1,125.8 462.3,125.2 460.8,124.0 C459.3,122.8 457.5,121.7 456.2,120.2 C454.9,118.7 453.7,116.9 453.2,114.9 C452.7,112.9 452.8,110.7 453.2,108.0Z" fill="#e2eaec" stroke="#e2eaec" stroke-width="2.5" filter="url(#bl2)"/><path d="M453.2,108.0 C453.6,105.3 454.2,101.3 455.5,98.8 C456.8,96.2 458.6,94.3 460.8,92.7 C463.0,91.1 465.4,89.8 468.5,88.9 C471.6,88.0 475.6,87.4 479.2,87.3 C482.8,87.2 486.6,87.4 489.9,88.1 C493.2,88.8 496.2,89.7 499.0,91.2 C501.8,92.7 504.8,95.0 506.7,97.3 C508.6,99.6 509.7,102.4 510.5,104.9 C511.3,107.5 511.4,110.3 511.3,112.6 C511.2,114.9 510.7,117.2 509.7,118.7 C508.7,120.2 506.9,120.9 505.1,121.7 C503.3,122.5 500.5,122.4 499.0,123.3 C497.5,124.2 497.0,125.7 496.0,127.1 C495.0,128.5 497.5,130.8 492.9,131.5 C488.3,132.2 473.1,132.2 468.5,131.5 C463.9,130.8 466.7,128.3 465.4,127.1 C464.1,125.8 462.3,125.2 460.8,124.0 C459.3,122.8 457.5,121.7 456.2,120.2 C454.9,118.7 453.7,116.9 453.2,114.9 C452.7,112.9 452.8,110.7 453.2,108.0Z" fill="url(#rg1d)"/><path d="M453.2,108.0 C453.6,105.3 454.2,101.3 455.5,98.8 C456.8,96.2 458.6,94.3 460.8,92.7 C463.0,91.1 465.4,89.8 468.5,88.9 C471.6,88.0 475.6,87.4 479.2,87.3 C482.8,87.2 486.6,87.4 489.9,88.1 C493.2,88.8 496.2,89.7 499.0,91.2 C501.8,92.7 504.8,95.0 506.7,97.3 C508.6,99.6 509.7,102.4 510.5,104.9 C511.3,107.5 511.4,110.3 511.3,112.6 C511.2,114.9 510.7,117.2 509.7,118.7 C508.7,120.2 506.9,120.9 505.1,121.7 C503.3,122.5 500.5,122.4 499.0,123.3 C497.5,124.2 497.0,125.7 496.0,127.1 C495.0,128.5 497.5,130.8 492.9,131.5 C488.3,132.2 473.1,132.2 468.5,131.5 C463.9,130.8 466.7,128.3 465.4,127.1 C464.1,125.8 462.3,125.2 460.8,124.0 C459.3,122.8 457.5,121.7 456.2,120.2 C454.9,118.7 453.7,116.9 453.2,114.9 C452.7,112.9 452.8,110.7 453.2,108.0Z" fill="none" stroke="#c49a92" stroke-width="1.6" opacity="0.55"/><clipPath id="cp84_3"><path d="M453.2,108.0 C453.6,105.3 454.2,101.3 455.5,98.8 C456.8,96.2 458.6,94.3 460.8,92.7 C463.0,91.1 465.4,89.8 468.5,88.9 C471.6,88.0 475.6,87.4 479.2,87.3 C482.8,87.2 486.6,87.4 489.9,88.1 C493.2,88.8 496.2,89.7 499.0,91.2 C501.8,92.7 504.8,95.0 506.7,97.3 C508.6,99.6 509.7,102.4 510.5,104.9 C511.3,107.5 511.4,110.3 511.3,112.6 C511.2,114.9 510.7,117.2 509.7,118.7 C508.7,120.2 506.9,120.9 505.1,121.7 C503.3,122.5 500.5,122.4 499.0,123.3 C497.5,124.2 497.0,125.7 496.0,127.1 C495.0,128.5 497.5,130.8 492.9,131.5 C488.3,132.2 473.1,132.2 468.5,131.5 C463.9,130.8 466.7,128.3 465.4,127.1 C464.1,125.8 462.3,125.2 460.8,124.0 C459.3,122.8 457.5,121.7 456.2,120.2 C454.9,118.7 453.7,116.9 453.2,114.9 C452.7,112.9 452.8,110.7 453.2,108.0Z"/></clipPath><g clip-path="url(#cp84_3)"><ellipse cx="493" cy="112.5" rx="4" ry="3.5" fill="#d8c2bc" opacity="0.6" filter="url(#bl2)"/><ellipse cx="460.8" cy="113" rx="3.5" ry="4" fill="#d8c2bc" opacity="0.45" filter="url(#bl2)"/><ellipse cx="481" cy="126" rx="10" ry="5" fill="#e07a66" opacity="0.35" filter="url(#bl2)"/><path d="M462.0,108.0 L466.0,99.0 L473.0,94.0 L481.0,93.0 L489.0,94.0 L496.0,99.0 L500.0,107.0" fill="none" stroke="#e8ccc6" stroke-width="2.6" stroke-linejoin="round" stroke-linecap="round" opacity="0.14" filter="url(#bl4)"/><path d="M462.0,108.0 L466.0,99.0 L473.0,94.0 L481.0,93.0 L489.0,94.0 L496.0,99.0 L500.0,107.0" fill="none" stroke="#d4bcb6" stroke-width="1.0" stroke-linejoin="round" stroke-linecap="round" opacity="0.3" filter="url(#bl3)"/><circle cx="473" cy="96.5" r="0.75" fill="#f0e6e4" opacity="0.85"/><circle cx="475" cy="97.5" r="0.75" fill="#f0e6e4" opacity="0.85"/><circle cx="483" cy="97.3" r="0.75" fill="#f0e6e4" opacity="0.85"/><circle cx="490.6" cy="95" r="0.75" fill="#f0e6e4" opacity="0.85"/><circle cx="492.9" cy="104.9" r="0.75" fill="#f0e6e4" opacity="0.85"/><circle cx="466.9" cy="108" r="0.75" fill="#f0e6e4" opacity="0.85"/><circle cx="470.8" cy="114.1" r="0.75" fill="#f0e6e4" opacity="0.85"/><circle cx="473" cy="118.7" r="0.75" fill="#f0e6e4" opacity="0.85"/><circle cx="489.9" cy="118.7" r="0.75" fill="#f0e6e4" opacity="0.85"/><circle cx="502" cy="113.3" r="0.75" fill="#f0e6e4" opacity="0.85"/><circle cx="504" cy="114" r="0.75" fill="#f0e6e4" opacity="0.85"/><circle cx="478" cy="104" r="0.75" fill="#f0e6e4" opacity="0.85"/></g><rect x="255" y="127.4" width="194" height="1.4" fill="#a6b0b2"/><rect x="255" y="128.6" width="194" height="4.0" fill="#d4dccb"/><rect x="255" y="128.6" width="5" height="4.0" fill="#2a3434"/><rect x="264.9" y="129.4" width="1.8" height="2.6" fill="#223030"/><rect x="270.8" y="129.4" width="1.8" height="2.6" fill="#223030"/><rect x="276.7" y="129.4" width="1.8" height="2.6" fill="#223030"/><rect x="282.6" y="129.4" width="1.8" height="2.6" fill="#223030"/><rect x="288.5" y="129.4" width="1.8" height="2.6" fill="#223030"/><rect x="294.3" y="129.4" width="1.8" height="2.6" fill="#223030"/><rect x="300.2" y="129.4" width="1.8" height="2.6" fill="#223030"/><rect x="306.1" y="129.4" width="1.8" height="2.6" fill="#223030"/><rect x="312.0" y="129.4" width="1.8" height="2.6" fill="#223030"/><rect x="317.9" y="129.4" width="1.8" height="2.6" fill="#223030"/><rect x="323.8" y="129.4" width="1.8" height="2.6" fill="#223030"/><rect x="329.7" y="129.4" width="1.8" height="2.6" fill="#223030"/><rect x="335.6" y="129.4" width="1.8" height="2.6" fill="#223030"/><rect x="341.5" y="129.4" width="1.8" height="2.6" fill="#223030"/><rect x="347.4" y="129.4" width="1.8" height="2.6" fill="#223030"/><rect x="353.2" y="129.4" width="1.8" height="2.6" fill="#223030"/><rect x="359.1" y="129.4" width="1.8" height="2.6" fill="#223030"/><rect x="365.0" y="129.4" width="1.8" height="2.6" fill="#223030"/><rect x="370.9" y="129.4" width="1.8" height="2.6" fill="#223030"/><rect x="376.8" y="129.4" width="1.8" height="2.6" fill="#223030"/><rect x="382.7" y="129.4" width="1.8" height="2.6" fill="#223030"/><rect x="388.6" y="129.4" width="1.8" height="2.6" fill="#223030"/><rect x="394.5" y="129.4" width="1.8" height="2.6" fill="#223030"/><rect x="400.4" y="129.4" width="1.8" height="2.6" fill="#223030"/><rect x="406.3" y="129.4" width="1.8" height="2.6" fill="#223030"/><rect x="412.1" y="129.4" width="1.8" height="2.6" fill="#223030"/><rect x="418.0" y="129.4" width="1.8" height="2.6" fill="#223030"/><rect x="423.9" y="129.4" width="1.8" height="2.6" fill="#223030"/><rect x="429.8" y="129.4" width="1.8" height="2.6" fill="#223030"/><rect x="435.7" y="129.4" width="1.8" height="2.6" fill="#223030"/><rect x="441.6" y="129.4" width="1.8" height="2.6" fill="#223030"/></g>
<!--/PHOTOS-->
</g>

<!-- ============ PANEL D ============ -->
<g id="D">
<text x="7.5" y="174.6" class="b" font-size="11.5" font-weight="bold" fill="#111">D</text>
<g stroke="#111" stroke-width="1.3" fill="none">
<line x1="61.75" y1="177" x2="61.75" y2="308.6"/>
<line x1="61.1" y1="308" x2="188.5" y2="308"/>
<line x1="58.5" y1="180.7" x2="61.75" y2="180.7"/>
<line x1="58.5" y1="212.9" x2="61.75" y2="212.9"/>
<line x1="58.5" y1="276.3" x2="61.75" y2="276.3"/>
<line x1="86.8" y1="308" x2="86.8" y2="311"/>
<line x1="125.2" y1="308" x2="125.2" y2="311"/>
<line x1="163" y1="308" x2="163" y2="311"/>
<line x1="59.45" y1="244.6" x2="188.5" y2="244.6" stroke-dasharray="3.6 1.7" stroke-width="1.4"/>
<line x1="36.7" y1="205" x2="36.7" y2="239.7" stroke-width="1.1" stroke="#3a3a3a"/>
<line x1="36.7" y1="244.7" x2="36.7" y2="280.5" stroke-width="1.1" stroke="#3a3a3a"/>
</g>
<path d="M36.7 201.8L34.3 206.1H39.1Z" fill="#111"/>
<path d="M36.7 283.8L34.3 279.5H39.1Z" fill="#111"/>
<g font-size="8.2" text-anchor="end" fill="#1a1a1a">
<text x="56.4" y="183.5">100</text>
<text x="56.3" y="215.8">50</text>
<text x="56.3" y="247.6">0</text>
<text x="56.3" y="279.1">50</text>
<text x="56.3" y="310.8">100</text>
</g>
<g font-size="7.9" text-anchor="middle" fill="#1a1a1a">
<text x="86.7" y="320.6" textLength="19.6" lengthAdjust="spacingAndGlyphs">Sham</text>
<text x="124.7" y="320.6" textLength="13.2" lengthAdjust="spacingAndGlyphs">Veh</text>
<text x="162.4" y="320.6" textLength="21.4" lengthAdjust="spacingAndGlyphs">PKCβi</text>
</g>
<text transform="translate(18.3,239.6) rotate(-90)" font-size="8.8" text-anchor="middle" fill="#1a1a1a" textLength="26" lengthAdjust="spacingAndGlyphs">Bias (%)</text>
<text transform="translate(31.3,223) rotate(-90)" font-size="8.4" font-style="italic" style="stroke-width:0.08px" text-anchor="middle" fill="#1a1a1a">Ipsi</text>
<text transform="translate(31.3,263.2) rotate(-90)" font-size="8.4" font-style="italic" style="stroke-width:0.08px" text-anchor="middle" fill="#1a1a1a">Contra</text>
<g stroke="#6e6e6e" stroke-width="1.2" fill="none">
<line x1="83" y1="177.6" x2="167" y2="177.6"/>
<line x1="83" y1="190.7" x2="121" y2="190.7"/>
<line x1="130" y1="190.7" x2="167" y2="190.7"/>
</g>
<text x="125" y="174.8" font-size="8" text-anchor="middle" fill="#1a1a1a">ns</text>
<path fill="#1a1a1a" d="M96.40,184.95 L96.90,186.01 L98.06,186.16 L97.21,186.96 L97.43,188.12 L96.40,187.55 L95.37,188.12 L95.59,186.96 L94.74,186.16 L95.90,186.01ZM100.40,184.95 L100.90,186.01 L102.06,186.16 L101.21,186.96 L101.43,188.12 L100.40,187.55 L99.37,188.12 L99.59,186.96 L98.74,186.16 L99.90,186.01ZM104.20,184.95 L104.70,186.01 L105.86,186.16 L105.01,186.96 L105.23,188.12 L104.20,187.55 L103.17,188.12 L103.39,186.96 L102.54,186.16 L103.70,186.01ZM107.70,184.95 L108.20,186.01 L109.36,186.16 L108.51,186.96 L108.73,188.12 L107.70,187.55 L106.67,188.12 L106.89,186.96 L106.04,186.16 L107.20,186.01Z"/>
<path fill="#1a1a1a" d="M142.60,184.95 L143.10,186.01 L144.26,186.16 L143.41,186.96 L143.63,188.12 L142.60,187.55 L141.57,188.12 L141.79,186.96 L140.94,186.16 L142.10,186.01ZM146.60,184.95 L147.10,186.01 L148.26,186.16 L147.41,186.96 L147.63,188.12 L146.60,187.55 L145.57,188.12 L145.79,186.96 L144.94,186.16 L146.10,186.01ZM150.60,184.95 L151.10,186.01 L152.26,186.16 L151.41,186.96 L151.63,188.12 L150.60,187.55 L149.57,188.12 L149.79,186.96 L148.94,186.16 L150.10,186.01ZM154.40,184.95 L154.90,186.01 L156.06,186.16 L155.21,186.96 L155.43,188.12 L154.40,187.55 L153.37,188.12 L153.59,186.96 L152.74,186.16 L153.90,186.01Z"/>
<!-- sham mean -->
<g stroke="#555" stroke-width="1.1" fill="none">
<line x1="73.7" y1="241.3" x2="100.6" y2="241.3"/>
<path d="M83.7 239.9H93.8M88.7 239.9V242.8M83.7 242.8H93.8"/>
</g>
<g fill="#fff" stroke="#3a78b8" stroke-width="0.9">
<circle cx="86.6" cy="234.4" r="1.7"/><circle cx="75.9" cy="241.2" r="1.7"/>
<circle cx="81.3" cy="240.9" r="1.7"/><circle cx="86.9" cy="240.9" r="1.7"/>
<circle cx="97.7" cy="240.9" r="1.7"/><circle cx="92.2" cy="244.7" r="1.7"/>
<circle cx="81.2" cy="247.8" r="1.7"/>
</g>
<!-- veh -->
<g fill="#0c4585"><circle cx="125.1" cy="199.1" r="1.65"/><circle cx="120.9" cy="209.1" r="1.65"/><circle cx="128.8" cy="207.9" r="1.65"/><circle cx="125.1" cy="215" r="1.65"/><circle cx="116.8" cy="217" r="1.65"/><circle cx="132.5" cy="217" r="1.65"/><circle cx="125.1" cy="223.2" r="1.65"/><circle cx="132.5" cy="221.8" r="1.65"/><circle cx="120.9" cy="229.4" r="1.65"/><circle cx="128.8" cy="228.3" r="1.65"/></g>
<g stroke="#222" stroke-width="1" fill="none">
<line x1="112.1" y1="217" x2="138" y2="217"/>
<path d="M118.8 213.5H131.2M125.1 213.5V220.3M118.8 220.3H131.2"/>
</g>
<g fill="#c80a24"><circle cx="163" cy="221.2" r="1.65"/><circle cx="163" cy="225.3" r="1.65"/><circle cx="173.6" cy="235.3" r="1.65"/><circle cx="152.2" cy="238.2" r="1.65"/><circle cx="159.2" cy="237.4" r="1.65"/><circle cx="166.6" cy="237.4" r="1.65"/><circle cx="152.2" cy="242.3" r="1.65"/><circle cx="166.6" cy="241.8" r="1.65"/><circle cx="173.6" cy="240.5" r="1.65"/></g>
<g stroke="#222" stroke-width="1" fill="none">
<line x1="150.1" y1="235.3" x2="175.9" y2="235.3"/>
<path d="M157.3 232.7H169.7M163.2 232.7V238.2M157.3 238.2H169.7"/>
</g>
</g>

<!-- ============ PANEL E ============ -->
<g id="E">
<text x="241.5" y="174.7" class="b" font-size="11.5" font-weight="bold" fill="#111">E</text>
<g stroke="#111" stroke-width="1.3" fill="none">
<line x1="272.6" y1="180" x2="272.6" y2="308.6"/>
<line x1="272" y1="308" x2="462.6" y2="308"/>
<line x1="270.6" y1="292.49" x2="272.6" y2="292.49"/>
<line x1="269.2" y1="276.97" x2="272.6" y2="276.97"/>
<line x1="270.6" y1="261.45" x2="272.6" y2="261.45"/>
<line x1="269.2" y1="245.94" x2="272.6" y2="245.94"/>
<line x1="270.6" y1="230.43" x2="272.6" y2="230.43"/>
<line x1="269.2" y1="214.91" x2="272.6" y2="214.91"/>
<line x1="270.6" y1="199.39" x2="272.6" y2="199.39"/>
<line x1="269.2" y1="183.88" x2="272.6" y2="183.88"/>
<line x1="272.60" y1="308" x2="272.60" y2="311.2"/>
<line x1="281.92" y1="308" x2="281.92" y2="309.9"/>
<line x1="291.24" y1="308" x2="291.24" y2="309.9"/>
<line x1="300.56" y1="308" x2="300.56" y2="309.9"/>
<line x1="309.88" y1="308" x2="309.88" y2="309.9"/>
<line x1="319.20" y1="308" x2="319.20" y2="311.2"/>
<line x1="328.52" y1="308" x2="328.52" y2="309.9"/>
<line x1="337.84" y1="308" x2="337.84" y2="309.9"/>
<line x1="347.16" y1="308" x2="347.16" y2="309.9"/>
<line x1="356.48" y1="308" x2="356.48" y2="309.9"/>
<line x1="365.80" y1="308" x2="365.80" y2="311.2"/>
<line x1="375.12" y1="308" x2="375.12" y2="309.9"/>
<line x1="384.44" y1="308" x2="384.44" y2="309.9"/>
<line x1="393.76" y1="308" x2="393.76" y2="309.9"/>
<line x1="403.08" y1="308" x2="403.08" y2="309.9"/>
<line x1="412.40" y1="308" x2="412.40" y2="311.2"/>
<line x1="421.72" y1="308" x2="421.72" y2="309.9"/>
<line x1="431.04" y1="308" x2="431.04" y2="309.9"/>
<line x1="440.36" y1="308" x2="440.36" y2="309.9"/>
<line x1="449.68" y1="308" x2="449.68" y2="309.9"/>
<line x1="459.00" y1="308" x2="459.00" y2="311.2"/>
</g>

<g font-size="8.2" text-anchor="end" fill="#1a1a1a">
<text x="266.2" y="186.3">80</text>
<text x="266" y="217.5">60</text>
<text x="266" y="248.7">40</text>
<text x="266" y="279.6">20</text>
<text x="266" y="310.4">0</text>
</g>
<g font-size="7.8" text-anchor="middle" fill="#1a1a1a">
<text x="272.6" y="319.8">5</text>
<text x="318.8" y="319.8">10</text>
<text x="365.9" y="319.8">15</text>
<text x="412.6" y="319.8">20</text>
<text x="458.8" y="319.8">25</text>
</g>
<text transform="translate(247.3,245.6) rotate(-90)" font-size="8.8" text-anchor="middle" fill="#1a1a1a" textLength="27" lengthAdjust="spacingAndGlyphs">Bias (%)</text>
<text x="328.3" y="332.6" font-size="9.4" fill="#1a1a1a" textLength="74.2" lengthAdjust="spacingAndGlyphs">Infarct volume (% Ipsi)</text>
<text x="331.8" y="204.5" font-size="8.3" fill="#1a1a1a" textLength="25" lengthAdjust="spacingAndGlyphs">P&lt;0.05</text>
<circle cx="431.8" cy="180.9" r="1.5" fill="#0c4585"/>
<circle cx="431.8" cy="192.4" r="1.5" fill="#c80a24"/>
<text x="436.8" y="183.3" font-size="7.9" fill="#1a1a1a" textLength="12.1" lengthAdjust="spacingAndGlyphs">Veh</text>
<text x="436.8" y="194.7" font-size="7.9" fill="#1a1a1a" textLength="20" lengthAdjust="spacingAndGlyphs">PKCβi</text>
<line x1="291.2" y1="283.1" x2="410.6" y2="244.5" stroke="#111" stroke-width="1.5"/>
<g fill="#c80a24">
<circle cx="295.6" cy="251.8" r="1.65"/><circle cx="308.5" cy="260.6" r="1.65"/>
<circle cx="291.2" cy="292.4" r="1.65"/><circle cx="302.9" cy="302.6" r="1.65"/>
<circle cx="318.2" cy="285.6" r="1.65"/><circle cx="322.1" cy="290.9" r="1.65"/>
<circle cx="316.5" cy="298.2" r="1.65"/><circle cx="351.5" cy="301.2" r="1.65"/>
<circle cx="404.4" cy="290.9" r="1.65"/>
</g>
<g fill="#0c4585">
<circle cx="305" cy="222" r="1.65"/><circle cx="344.1" cy="256.5" r="1.65"/>
<circle cx="366.5" cy="268.2" r="1.65"/><circle cx="381.2" cy="271.5" r="1.65"/>
<circle cx="401.5" cy="197.1" r="1.65"/><circle cx="412.6" cy="218.8" r="1.65"/>
<circle cx="406.2" cy="235.3" r="1.65"/><circle cx="400.3" cy="241.5" r="1.65"/>
<circle cx="413.5" cy="241.5" r="1.65"/><circle cx="403.8" cy="252.1" r="1.65"/>
</g>
</g>
</svg>
</body></html>
